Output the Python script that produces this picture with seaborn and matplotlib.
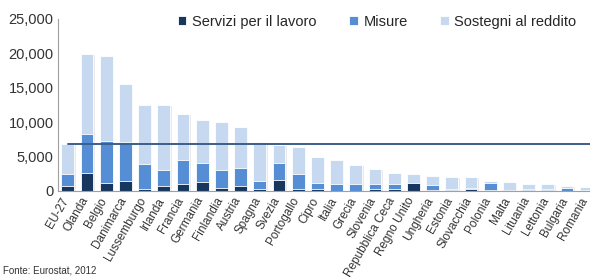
import numpy as np
import pandas as pd
import seaborn as sns
import matplotlib.pyplot as plt

paesi = ["EU-27", "Olanda", "Belgio", "Danimarca", "Lussemburgo", "Irlanda", "Francia",
         "Germania", "Finlandia", "Austria", "Spagna", "Svezia", "Portogallo", "Cipro",
         "Italia", "Grecia", "Slovenia", "Repubblica Ceca", "Regno Unito", "Ungheria",
         "Estonia", "Slovacchia", "Polonia", "Malta", "Lituania", "Lettonia", "Bulgaria",
         "Romania"]

servizi = [720, 2600, 1150, 1450, 350, 700, 1050, 1350, 400, 700, 250, 1550, 350, 250,
           50, 50, 300, 350, 1150, 100, 100, 300, 100, 150, 100, 100, 50, 50]
misure = [1680, 5600, 6050, 5650, 3550, 2300, 3450, 2650, 2700, 2700, 1150, 2550, 2050, 900,
          950, 950, 700, 650, 50, 700, 150, 200, 1050, 50, 250, 150, 450, 50]
sostegni = [4350, 11700, 12400, 8400, 8600, 9500, 6600, 6300, 6900, 5900, 5700, 2500, 4000, 3850,
            3500, 2800, 2200, 1650, 1200, 1400, 1800, 1550, 300, 1150, 700, 750, 250, 500]

df = pd.DataFrame({"paese": paesi, "servizi": servizi, "misure": misure, "sostegni": sostegni})
df["cum_misure"] = df["servizi"] + df["misure"]
df["totale"] = df["cum_misure"] + df["sostegni"]

c_dark = "#17375E"
c_mid = "#558ED5"
c_light = "#C6D9F1"

sns.set_style("white")
plt.rcParams["font.family"] = ["Liberation Sans", "DejaVu Sans"]

fig = plt.figure(figsize=(5.9, 2.78), dpi=100)
ax = fig.add_axes([0.098, 0.313, 0.902, 0.62])

# shadow behind bars
ax.bar(np.arange(len(df)) + 0.08, df["totale"], width=0.66, color="#E4E4E4", zorder=0)

sns.barplot(data=df, x="paese", y="totale", color=c_light, width=0.66,
            edgecolor="white", linewidth=0.6, saturation=1, ax=ax, label="Sostegni al reddito")
sns.barplot(data=df, x="paese", y="cum_misure", color=c_mid, width=0.66,
            edgecolor="white", linewidth=0.6, saturation=1, ax=ax, label="Misure")
sns.barplot(data=df, x="paese", y="servizi", color=c_dark, width=0.66,
            edgecolor="white", linewidth=0.6, saturation=1, ax=ax, label="Servizi per il lavoro")

# EU-27 reference line
ax.plot([0, len(df) + 1], [df["totale"][0], df["totale"][0]], color="#3A5F8A", lw=1.4, zorder=5)

ax.set_xlim(-0.52, len(df) - 0.8)
ax.set_ylim(0, 25000)
ax.set_yticks(range(0, 25001, 5000))
ax.set_yticklabels([f"{v:,}" for v in range(0, 25001, 5000)], fontsize=10.5, color="#333333")
# labels end a little left of the bar centre, as in the original
ax.set_xticks(np.arange(len(df)) - 0.35)
ax.set_xticklabels(paesi, rotation=60, ha="right", rotation_mode="anchor", fontsize=8.5,
                   color="#333333")
ax.tick_params(axis="both", length=0, pad=3)
ax.set_xlabel("")
ax.set_ylabel("")

for s in ["top", "right"]:
    ax.spines[s].set_visible(False)
ax.spines["left"].set_color("#A0A0A0")
ax.spines["bottom"].set_color("#A0A0A0")
ax.spines["left"].set_linewidth(0.8)
ax.spines["bottom"].set_linewidth(0.8)

handles, labels = ax.get_legend_handles_labels()
order = [labels.index("Servizi per il lavoro"), labels.index("Misure"),
         labels.index("Sostegni al reddito")]
ax.legend([handles[i] for i in order], [labels[i] for i in order], loc="upper center",
          bbox_to_anchor=(0.6, 1.1), ncol=3, frameon=False, fontsize=10.5,
          handlelength=0.6, handleheight=0.6, handletextpad=0.4, columnspacing=2.2)

fig.text(0.005, 0.015, "Fonte: Eurostat, 2012", fontsize=7, color="#333333")

fig.savefig("out.png", dpi=100)
